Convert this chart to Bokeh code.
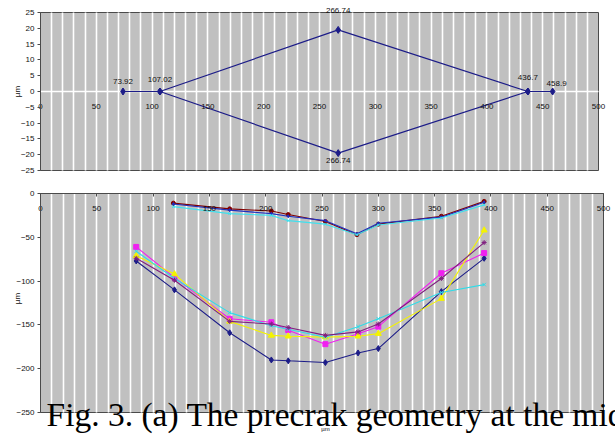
import math
from bokeh.plotting import figure
from bokeh.layouts import column
from bokeh.models import Range1d, FixedTicker
from bokeh.embed import file_html
from bokeh.resources import INLINE
from bokeh.core.properties import value

# ---------------- data ----------------
# top chart (precrack outline)
top_upper_x = [73.92, 107.02, 266.74, 436.7, 458.9]
top_upper_y = [0, 0, 19.5, 0, 0]
top_lower_x = [107.02, 266.74, 436.7]
top_lower_y = [0, -19.5, 0]
above_label_x = [73.92, 107.02, 266.74, 436.7, 458.9]
above_label_y = [0, 0, 19.5, 0, 0]
above_label_text = ["73.92", "107.02", "266.74", "436.7", "458.9"]
below_label_x = [266.74]
below_label_y = [-19.5]
below_label_text = ["266.74"]

x_ticks = [0, 50, 100, 150, 200, 250, 300, 350, 400, 450, 500]
top_y_ticks = [25, 20, 15, 10, 5, 0, -5, -10, -15, -20, -25]
bottom_y_ticks = [0, -50, -100, -150, -200, -250]

# bottom chart, deep group
deep_x = [85, 119, 168, 205, 220, 253, 282, 300, 356, 394]
deep_navy = [-77, -110, -159, -190, -191, -193, -182, -177, -112, -74]
deep_magenta = [-61, -96, -143, -147, -156, -172, -160, -152, -91, -68]
deep_yellow = [-71, -92, -146, -162, -163, -164, -163, -160, -120, -42]
deep_cyan = [-66, -97, -136, -151, -155, -164, -152, -143, -113, -104]
deep_purple = [-74, -99, -146, -149, -153, -162, -158, -149, -97, -56]

# bottom chart, shallow group
shallow_x = [118, 168, 205, 220, 253, 281, 300, 356, 394]
shallow_darkred = [-11, -17.5, -20, -24, -32, -47, -35, -26, -9]
shallow_blue = [-12, -19, -23, -26, -31, -46, -34, -27, -10]
shallow_cyan = [-15, -23, -25, -31, -35, -47, -36, -28, -13]

caption = "Fig. 3. (a) The precrak geometry at the mid"
unit = "µm"

# ---------------- styling ----------------
FONT = "Liberation Sans"
PLOT_BG = "#c0c0c0"
EDGE = "#4a4a4a"
TXT = "#111111"
W = 615


def make_fig(height, px_left, px_right, px_top, px_bottom, xlo, xhi, ylo, yhi, yticks):
    """Frame fills the whole canvas; plot area (gray) spans data [xlo,xhi]x[ylo,yhi]
    placed at the given pixel edges."""
    sx = (px_right - px_left) / (xhi - xlo)
    sy = (px_bottom - px_top) / (yhi - ylo)
    xr = Range1d(xlo - px_left / sx, xhi + (W - px_right) / sx)
    yr = Range1d(ylo - (height - px_bottom) / sy, yhi + px_top / sy)
    p = figure(width=W, height=height, x_range=xr, y_range=yr,
               output_backend="svg", toolbar_location=None,
               min_border_left=0, min_border_right=0, min_border_top=0, min_border_bottom=0)
    p.background_fill_color = "white"
    p.border_fill_color = "white"
    p.outline_line_color = None
    # plot-area panel
    p.quad(left=[xlo], right=[xhi], bottom=[ylo], top=[yhi], fill_color=PLOT_BG,
           line_color=EDGE, line_width=1, level="image")
    p.xgrid.ticker = FixedTicker(ticks=list(range(10, 500, 10)))
    p.xgrid.grid_line_color = "white"
    p.xgrid.grid_line_width = 1.6
    p.xgrid.cross_bounds = (ylo, yhi)
    p.ygrid.grid_line_color = None
    for ax in (p.xaxis[0], p.yaxis[0]):
        ax.major_label_text_font = FONT
        ax.major_label_text_font_size = "8px"
        ax.major_label_text_color = TXT
        ax.minor_tick_line_color = None
    p.xaxis.ticker = FixedTicker(ticks=x_ticks)
    p.xaxis.fixed_location = 0
    p.xaxis.bounds = (xlo, xhi)
    p.yaxis.ticker = FixedTicker(ticks=yticks)
    p.yaxis.fixed_location = 0
    p.yaxis.bounds = (ylo, yhi)
    p.yaxis.axis_line_color = EDGE
    p.yaxis.major_tick_line_color = EDGE
    p.yaxis.major_tick_out = 3
    p.yaxis.major_tick_in = 0
    p.yaxis.major_label_standoff = 3
    return p, sx, sy


# ---------------- top figure ----------------
p1, sx1, sy1 = make_fig(182, 40, 598, 12, 170, 0, 500, -25, 25, top_y_ticks)
p1.ygrid.ticker = FixedTicker(ticks=[0])
p1.ygrid.grid_line_color = "white"
p1.ygrid.grid_line_width = 1.6
p1.ygrid.cross_bounds = (0, 500)
p1.xaxis.axis_line_color = None
p1.xaxis.major_tick_line_color = None
p1.xaxis.major_label_standoff = 6

NAVY = "#1c1c88"
p1.line(top_upper_x, top_upper_y, line_color=NAVY, line_width=1.2)
p1.line(top_lower_x, top_lower_y, line_color=NAVY, line_width=1.2)
p1.scatter(top_upper_x + top_lower_x, top_upper_y + top_lower_y, marker="diamond",
           size=7, fill_color=NAVY, line_color=NAVY)
above_offsets = [-8, -10, -17, -12, -6]
above_xoff = [0, 0, 0, 0, 4]
p1.text(above_label_x, above_label_y, text=above_label_text, text_font=value(FONT),
        text_font_size="8px", text_align="center", text_baseline="bottom",
        text_color=TXT, y_offset=above_offsets, x_offset=above_xoff)
p1.text(below_label_x, below_label_y, text=below_label_text, text_font=value(FONT),
        text_font_size="8px", text_align="center", text_baseline="top",
        text_color=TXT, y_offset=5)
p1.text([-23 / sx1], [0], text=[unit], text_font=value(FONT), text_font_size="8px",
        text_align="center", text_baseline="middle", text_color=TXT, angle=math.pi / 2)

# ---------------- bottom figure ----------------
p2, sx2, sy2 = make_fig(252, 40, 603, 11, 230, 0, 500, -250, 0, bottom_y_ticks)
p2.xaxis.axis_line_color = EDGE
p2.xaxis.major_tick_line_color = EDGE
p2.xaxis.major_tick_in = 0
p2.xaxis.major_tick_out = 3
p2.xaxis.major_label_standoff = 9

series = [
    (deep_x, deep_navy, "#1c1c88", "diamond", 6),
    (deep_x, deep_magenta, "#f020f0", "square", 5),
    (deep_x, deep_yellow, "#f4f400", "triangle", 6),
    (deep_x, deep_cyan, "#30dce8", "x", 5),
    (deep_x, deep_purple, "#802080", "asterisk", 5),
    (shallow_x, shallow_darkred, "#800000", "circle", 4),
    (shallow_x, shallow_blue, "#2030c0", "diamond", 3),
    (shallow_x, shallow_cyan, "#40e0ee", "x", 4),
]
for xs, ys, col, mk, sz in series:
    p2.line(xs, ys, line_color=col, line_width=1.1)
    p2.scatter(xs, ys, marker=mk, size=sz, fill_color=col, line_color=col)

p2.text([-23 / sx2], [-105 / sy2], text=[unit], text_font=value(FONT), text_font_size="8px",
        text_align="center", text_baseline="middle", text_color=TXT, angle=math.pi / 2)
p2.text([285 / sx2], [-235 / sy2], text=[unit], text_font=value(FONT), text_font_size="6px",
        text_align="center", text_baseline="middle", text_color=TXT)
p2.text([6.0 / sx2], [-221 / sy2], text=[caption], text_font=value("Liberation Serif"),
        text_font_size="33.5px", text_color="black", text_align="left",
        text_baseline="alphabetic")

layout = column(p1, p2, spacing=0)
open("out.html", "w").write(file_html(layout, INLINE))
